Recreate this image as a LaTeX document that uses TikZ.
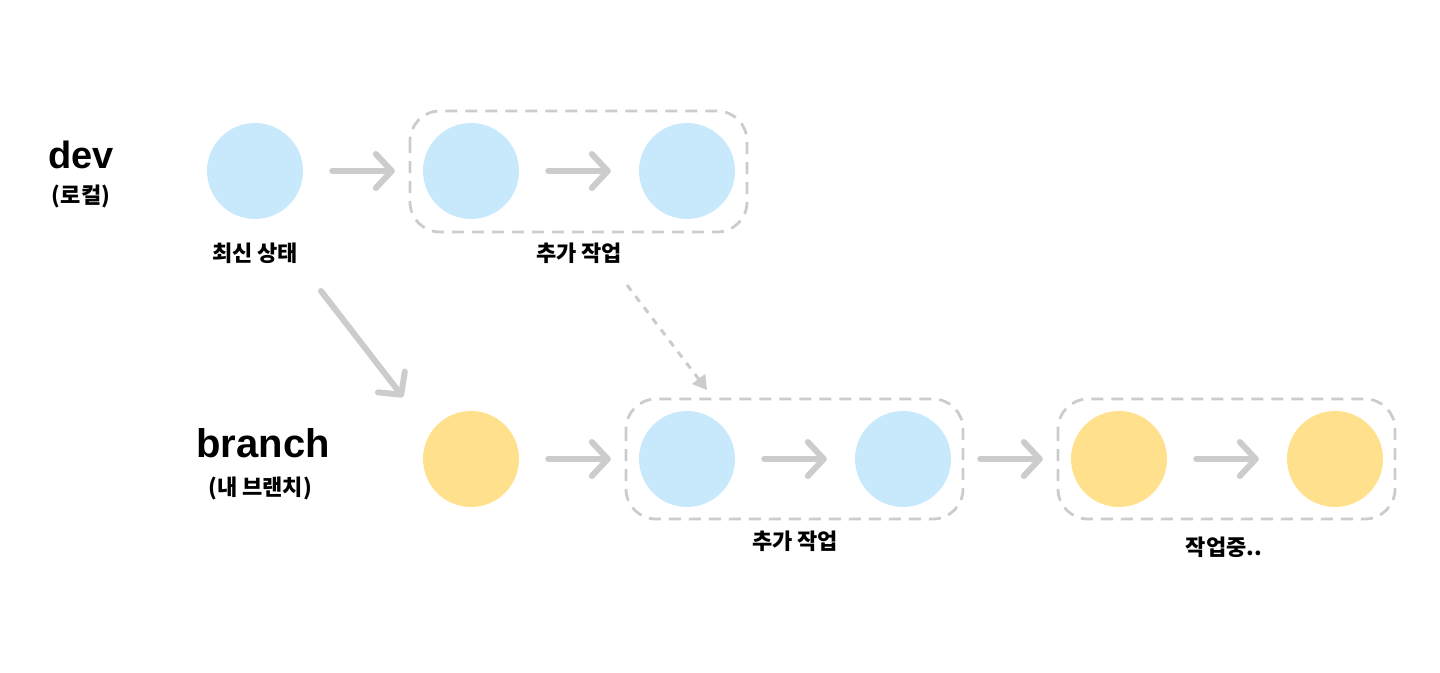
\documentclass[tikz,border=0pt]{standalone}
\usepackage{fontspec}
\setmainfont{Noto Sans CJK KR}
\newfontfamily\latinfam{Liberation Sans}
\usetikzlibrary{arrows.meta}
\definecolor{cblue}{HTML}{C8E8FC}
\definecolor{cyellow}{HTML}{FFE08C}
\definecolor{cgray}{HTML}{CCCCCC}
\begin{document}
\begin{tikzpicture}[x=1pt,y=-1pt,
  commit/.style={circle,minimum size=96pt,inner sep=0pt,draw=none},
  bluec/.style={commit,fill=cblue},
  yellowc/.style={commit,fill=cyellow},
  arr/.style={draw=cgray,line width=6pt,line cap=round,line join=round,
    -{Straight Barb[length=16pt,width=34pt,round]},shorten <=29pt,shorten >=28pt},
  darr/.style={draw=cgray,line width=3pt,dash pattern=on 7pt off 7pt,
    -{Triangle[length=14pt,width=16pt]}},
  group/.style={draw=cgray,line width=2.8pt,dash pattern=on 12pt off 8pt,rounded corners=30pt},
  small/.style={font=\fontsize{22}{26}\selectfont\bfseries},
  lbl/.style={font=\fontsize{22}{26}\selectfont\bfseries}]
\useasboundingbox (0,0) rectangle (1440,672);
% groups
\draw[group] (410,111) rectangle (747,232);
\draw[group] (626,399) rectangle (963,519);
\draw[group] (1058,399) rectangle (1395,519);
% row labels
\node[font=\fontsize{38}{42}\latinfam\bfseries] (dev) at (81,155) {dev};
\node[small] (devk) at (81,196) {(로컬)};
\node[font=\fontsize{40}{44}\latinfam\bfseries] (br) at (263,443) {branch};
\node[small] (brk) at (260,488) {(내 브랜치)};
% commits
\node[bluec] (a1) at (255,171) {};
\node[bluec] (a2) at (471,171) {};
\node[bluec] (a3) at (687,171) {};
\node[yellowc] (b1) at (471,459) {};
\node[bluec] (b2) at (687,459) {};
\node[bluec] (b3) at (903,459) {};
\node[yellowc] (b4) at (1119,459) {};
\node[yellowc] (b5) at (1335,459) {};
% labels
\node[lbl] (l1) at (255,253) {최신 상태};
\node[lbl] (l2) at (579,253) {추가 작업};
\node[lbl] (l3) at (795,541) {추가 작업};
\node[lbl] (l4) at (1224,547) {작업중..};
% arrows
\draw[arr] (a1) -- (a2);
\draw[arr] (a2) -- (a3);
\draw[arr] (b1) -- (b2);
\draw[arr] (b2) -- (b3);
\draw[arr] (b3) -- (b4);
\draw[arr] (b4) -- (b5);
\coordinate (s1) at (321,291);
\coordinate (e1) at (403,397);
\draw[arr,shorten <=0pt,shorten >=0pt] (s1) -- (e1);
\coordinate (s2) at (627,285);
\coordinate (e2) at (707,390);
\draw[darr] (s2) -- (e2);
\end{tikzpicture}
\end{document}
